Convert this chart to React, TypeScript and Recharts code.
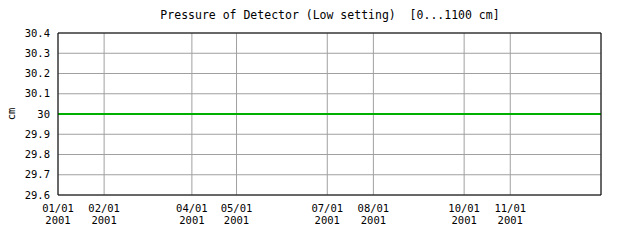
import React from 'react';
import { LineChart, Line, XAxis, YAxis, CartesianGrid } from 'recharts';

const DAY = 86400000;
const START = Date.UTC(2001, 0, 1);
const END = Date.UTC(2002, 0, 1);

// readings of the detector (constant at 30 cm over the year)
const readingDates = [
  '2001-01-01', '2001-02-01', '2001-03-01', '2001-04-01', '2001-05-01', '2001-06-01',
  '2001-07-01', '2001-08-01', '2001-09-01', '2001-10-01', '2001-11-01', '2001-12-01', '2002-01-01'
];
const pressureValues = [30, 30, 30, 30, 30, 30, 30, 30, 30, 30, 30, 30, 30];

const tickDates = [
  '2001-01-01', '2001-02-01', '2001-04-01', '2001-05-01',
  '2001-07-01', '2001-08-01', '2001-10-01', '2001-11-01'
];
const yTicks = [29.6, 29.7, 29.8, 29.9, 30, 30.1, 30.2, 30.3, 30.4];

const toTime = (s: string) => Date.parse(s + 'T00:00:00Z');
const data = readingDates.map((d, i) => ({ t: toTime(d), value: pressureValues[i] }));
const majorTicks = tickDates.map(toTime);
const minorTicks: number[] = [];
for (let t = START; t <= END; t += 10 * DAY) minorTicks.push(t);

const FONT = '"DejaVu Sans Mono", monospace';

const DateTick = ({ x, y, payload }: any) => {
  const d = new Date(payload.value);
  const mm = String(d.getUTCMonth() + 1).padStart(2, '0');
  const dd = String(d.getUTCDate()).padStart(2, '0');
  return (
    <text x={x} textAnchor="middle" fill="#000" fontFamily={FONT} fontSize={10.5}>
      <tspan x={x} y={y + 9}>{`${mm}/${dd}`}</tspan>
      <tspan x={x} y={y + 21}>{d.getUTCFullYear()}</tspan>
    </text>
  );
};

const formatY = (v: number) => String(Math.round(v * 10) / 10);

export default function App() {
  return (
    <div style={{ position: 'absolute', left: 0, top: 0, width: 640, height: 240, background: '#fff' }}>
      <div
        style={{
          position: 'absolute', left: 0, top: 8, width: 660, textAlign: 'center',
          fontFamily: FONT, fontSize: 11.5, color: '#000', lineHeight: '14px', whiteSpace: 'pre'
        }}
      >
        {'Pressure of Detector (Low setting)  [0...1100 cm]'}
      </div>
      <LineChart width={640} height={240} data={data} margin={{ top: 33, right: 39, bottom: 0, left: 0 }}>
        <CartesianGrid stroke="#a0a0a0" strokeWidth={1} verticalPoints={undefined} />
        <XAxis
          dataKey="t" type="number" scale="time" domain={[START, END]} allowDataOverflow
          ticks={majorTicks} tick={<DateTick />} tickLine={false} height={45}
          axisLine={{ stroke: '#000' }} interval={0}
        />
        <XAxis xAxisId="bM" dataKey="t" type="number" domain={[START, END]} allowDataOverflow
          ticks={majorTicks} mirror tickSize={5} tick={false} axisLine={false}
          tickLine={{ stroke: '#000' }} interval={0} height={1} />
        <XAxis xAxisId="bm" dataKey="t" type="number" domain={[START, END]} allowDataOverflow
          ticks={minorTicks} mirror tickSize={3} tick={false} axisLine={false}
          tickLine={{ stroke: '#000' }} interval={0} height={1} />
        <XAxis xAxisId="tM" orientation="top" dataKey="t" type="number" domain={[START, END]} allowDataOverflow
          ticks={majorTicks} mirror tickSize={5} tick={false} axisLine={{ stroke: '#000' }}
          tickLine={{ stroke: '#000' }} interval={0} height={1} />
        <XAxis xAxisId="tm" orientation="top" dataKey="t" type="number" domain={[START, END]} allowDataOverflow
          ticks={minorTicks} mirror tickSize={3} tick={false} axisLine={false}
          tickLine={{ stroke: '#000' }} interval={0} height={1} />
        <YAxis
          domain={[29.6, 30.4]} ticks={yTicks} allowDataOverflow width={58}
          tickFormatter={formatY} tickLine={false} tickMargin={2} interval={0}
          axisLine={{ stroke: '#000' }}
          tick={{ fill: '#000', fontFamily: FONT, fontSize: 10.5 }}
          label={{
            content: () => (
              <text x={15} y={114} textAnchor="middle" fill="#000" fontFamily={FONT} fontSize={10.5}
                transform="rotate(-90 15 114)">cm</text>
            )
          }}
        />
        <YAxis yAxisId="lm" domain={[29.6, 30.4]} ticks={yTicks} allowDataOverflow mirror
          tickSize={5} tick={false} axisLine={false} tickLine={{ stroke: '#000' }} interval={0} width={1} />
        <YAxis yAxisId="r" orientation="right" domain={[29.6, 30.4]} ticks={yTicks} allowDataOverflow mirror
          tickSize={5} tick={false} axisLine={{ stroke: '#000' }} tickLine={{ stroke: '#000' }} interval={0} width={1} />
        <Line
          dataKey="value" type="linear" stroke="#00b000" strokeWidth={2}
          dot={false} activeDot={false} isAnimationActive={false}
        />
      </LineChart>
    </div>
  );
}
